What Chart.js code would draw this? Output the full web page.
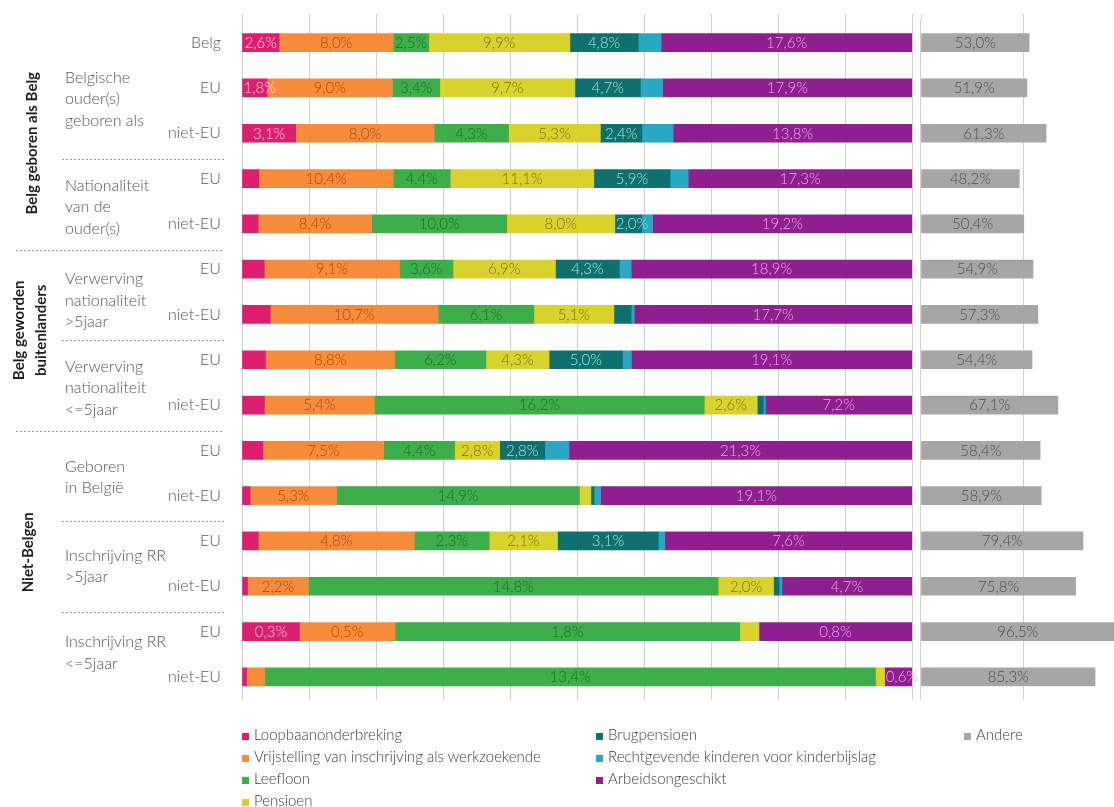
<!DOCTYPE html>
<html><head><meta charset="utf-8">
<script src="https://cdn.jsdelivr.net/npm/chart.js@4"></script>
<style>
html,body{margin:0;padding:0;background:#fff;}
#wrap{position:relative;width:1114px;height:807px;overflow:hidden;}
canvas{position:absolute;left:0;top:0;}
.lg{position:absolute;font:300 15px Lato, sans-serif;color:#3c3c3c;white-space:nowrap;line-height:20px}
.lg i{display:inline-block;width:7px;height:7px;margin-right:5px;vertical-align:0px}
</style></head>
<body><div id="wrap"><canvas id="c" width="1114" height="807"></canvas><div id="legend"></div></div>
<script>
// ---- data ----
const categories = ['Belg','EU','niet-EU','EU','niet-EU','EU','niet-EU','EU','niet-EU','EU','niet-EU','EU','niet-EU','EU','niet-EU'];
const loopbaan          = [2.6,1.8,3.1,1.3,1.2,1.5,1.8,1.6,1.1,1.3,0.5,0.5,0.2,0.3,0.1];
const vrijstelling      = [8.0,9.0,8.0,10.4,8.4,9.1,10.7,8.8,5.4,7.5,5.3,4.8,2.2,0.5,0.4];
const leefloon          = [2.5,3.4,4.3,4.4,10.0,3.6,6.1,6.2,16.2,4.4,14.9,2.3,14.8,1.8,13.4];
const pensioen          = [9.9,9.7,5.3,11.1,8.0,6.9,5.1,4.3,2.6,2.8,0.7,2.1,2.0,0.1,0.2];
const brugpensioen      = [4.8,4.7,2.4,5.9,2.0,4.3,1.1,5.0,0.3,2.8,0.2,3.1,0.2,0,0];
const rechtgevende      = [1.6,1.6,1.8,1.4,0.8,0.8,0.2,0.6,0.1,1.5,0.4,0.2,0.1,0,0];
const arbeidsongeschikt = [17.6,17.9,13.8,17.3,19.2,18.9,17.7,19.1,7.2,21.3,19.1,7.6,4.7,0.8,0.6];
const andere            = [53.0,51.9,61.3,48.2,50.4,54.9,57.3,54.4,67.1,58.4,58.9,79.4,75.8,96.5,85.3];

// which values carry a printed label in the original
const labLoopbaan     = [0,1,2,13];
const labVrijstelling = [0,1,2,3,4,5,6,7,8,9,10,11,12,13];
const labLeefloon     = [0,1,2,3,4,5,6,7,8,9,10,11,12,13,14];
const labPensioen     = [0,1,2,3,4,5,6,7,8,9,11,12];
const labBrug         = [0,1,2,3,4,5,7,9,11];
const labRecht        = [];
const labArbeid       = [0,1,2,3,4,5,6,7,8,9,10,11,12,13,14];
const labAndere       = [0,1,2,3,4,5,6,7,8,9,10,11,12,13,14];

const seriesNames = ['Loopbaanonderbreking','Vrijstelling van inschrijving als werkzoekende','Leefloon','Pensioen','Brugpensioen','Rechtgevende kinderen voor kinderbijslag','Arbeidsongeschikt','Andere'];

// ---- styles ----
const colors    = ['#dc1f6f','#f68b3c','#3eae4a','#dad22c','#10706f','#29a8c4','#8f1f8e','#a6a6a6'];
const txtColors = ['#fbd0e2','#a94a10','#1d6a27','#7a7116','#a2e3e2','#e8acea','#e8acea','#4e4e4e'];

const groupLabels = [
  {lines:['Belg geboren als Belg'], at:2.22, x:[32]},
  {lines:['Belg geworden','buitenlanders'], at:6.35, x:[19,41]},
  {lines:['Niet-Belgen'], at:11.25, x:[28]}
];
const subLabels = [
  {lines:['Belgische','ouder(s)','geboren als'], at:1.25},
  {lines:['Nationaliteit','van de','ouder(s)'], at:3.63},
  {lines:['Verwerving','nationaliteit','>5jaar'], at:5.69},
  {lines:['Verwerving','nationaliteit','<=5jaar'], at:7.63},
  {lines:['Geboren','in België'], at:9.6},
  {lines:['Inschrijving RR','>5jaar'], at:11.56},
  {lines:['Inschrijving RR','<=5jaar'], at:13.47}
];
const subSeps = [2.5, 6.5, 10.5, 12.5];
const mainSeps = [4.5, 8.5];

// ---- build ----
const parts = [loopbaan, vrijstelling, leefloon, pensioen, brugpensioen, rechtgevende, arbeidsongeschikt];
const partLabels = [labLoopbaan, labVrijstelling, labLeefloon, labPensioen, labBrug, labRecht, labArbeid];
const rowTotals = categories.map((_, i) => parts.reduce((s, p) => s + p[i], 0));

const datasets = parts.map((p, k) => ({
  label: seriesNames[k],
  data: p.map((v, i) => v / rowTotals[i] * 100),
  raw: p, labelIdx: partLabels[k],
  backgroundColor: colors[k], txtColor: txtColors[k],
  xAxisID: 'x', stack: 's', barThickness: 18, borderWidth: 0
}));
datasets.push({
  label: seriesNames[7], data: andere.slice(), raw: andere, labelIdx: labAndere,
  backgroundColor: colors[7], txtColor: txtColors[7],
  xAxisID: 'x2', stack: 's', barThickness: 18, borderWidth: 0
});

const fmt = v => v.toFixed(1).replace('.', ',') + '%';
const FONT = 'Lato, sans-serif';

const valueLabels = {
  id: 'valueLabels',
  afterDatasetsDraw(chart) {
    const ctx = chart.ctx;
    ctx.save();
    ctx.font = '300 15px ' + FONT;
    ctx.textBaseline = 'middle';
    ctx.textAlign = 'center';
    chart.data.datasets.forEach((ds, di) => {
      const meta = chart.getDatasetMeta(di);
      ds.labelIdx.forEach(i => {
        const el = meta.data[i];
        if (!el) return;
        const p = el.getProps(['x', 'base', 'y'], true);
        const t = fmt(ds.raw[i]);
        const w = ctx.measureText(t).width;
        let cx = (p.x + p.base) / 2;
        const lo = Math.min(p.x, p.base);
        if (cx - w / 2 < lo + 1) cx = lo + 1 + w / 2;
        if (ds.xAxisID === 'x2') {
          const right = Math.min(Math.max(p.x, p.base), chart.chartArea.right);
          cx = (lo + right) / 2;
        }
        ctx.fillStyle = ds.txtColor;
        ctx.fillText(t, cx, p.y + 0.5);
      });
    });
    ctx.restore();
  }
};

const sideLabels = {
  id: 'sideLabels',
  beforeDatasetsDraw(chart) {
    // extend vertical gridlines slightly above the plot
    const ctx = chart.ctx, top = chart.chartArea.top;
    ctx.save();
    ctx.strokeStyle = '#cfcfcf'; ctx.lineWidth = 1;
    ['x', 'x2'].forEach(id => {
      const s = chart.scales[id];
      s.ticks.forEach(t => {
        const px = Math.round(s.getPixelForValue(t.value)) + 0.5;
        ctx.beginPath(); ctx.moveTo(px, top - 6); ctx.lineTo(px, top); ctx.stroke();
      });
    });
    ctx.restore();
  },
  afterDraw(chart) {
    const ctx = chart.ctx, y = chart.scales.y;
    ctx.save();
    // separators
    ctx.strokeStyle = '#9a9a9a'; ctx.lineWidth = 1; ctx.setLineDash([2, 2]);
    subSeps.forEach(v => {
      const py = Math.round(y.getPixelForValue(v) + 3) + 0.5;
      ctx.beginPath(); ctx.moveTo(62, py); ctx.lineTo(224, py); ctx.stroke();
    });
    mainSeps.forEach(v => {
      const py = Math.round(y.getPixelForValue(v) + 3) + 0.5;
      ctx.beginPath(); ctx.moveTo(16, py); ctx.lineTo(224, py); ctx.stroke();
    });
    ctx.setLineDash([]);
    // sub labels
    ctx.font = '300 16px ' + FONT;
    ctx.fillStyle = '#555';
    ctx.textAlign = 'left'; ctx.textBaseline = 'middle';
    subLabels.forEach(s => {
      const c = y.getPixelForValue(s.at);
      const n = s.lines.length;
      s.lines.forEach((l, k) => ctx.fillText(l, 65, c + (k - (n - 1) / 2) * 21.5));
    });
    // group labels (rotated)
    ctx.font = 'bold 15px ' + FONT;
    ctx.fillStyle = '#1e1e1e';
    ctx.textAlign = 'center';
    groupLabels.forEach(g => {
      const c = y.getPixelForValue(g.at);
      g.lines.forEach((l, k) => {
        ctx.save();
        ctx.translate(g.x[k], c);
        ctx.rotate(-Math.PI / 2);
        ctx.fillText(l, 0, 0);
        ctx.restore();
      });
    });
    ctx.restore();
  }
};

new Chart(document.getElementById('c'), {
  type: 'bar',
  data: { labels: categories, datasets },
  options: {
    responsive: false, animation: false, indexAxis: 'y',
    layout: { padding: { top: 20, bottom: 107.5, left: 0, right: 0 } },
    plugins: { legend: { display: false }, tooltip: { enabled: false } },
    scales: {
      y: {
        type: 'category', stacked: true,
        grid: { display: false, drawTicks: true, tickLength: 21 }, border: { display: false },
        ticks: { padding: 0, color: '#555', autoSkip: false, font: { family: FONT, weight: '300', size: 16 } },
        afterFit: s => { s.width = 242; s.paddingTop = 0; s.paddingBottom = 0; }
      },
      x: {
        type: 'linear', axis: 'x', position: 'bottom', stack: 'xs', stackWeight: 670, stacked: true,
        min: 0, max: 100,
        ticks: { display: false, stepSize: 10 },
        grid: { color: '#cfcfcf', drawTicks: false, lineWidth: 1 },
        border: { display: false }
      },
      x2: {
        type: 'linear', axis: 'x', position: 'bottom', stack: 'xs', stackWeight: 202, stacked: true,
        min: -4.41, max: 94.6,
        ticks: { display: false },
        afterBuildTicks: s => { s.ticks = [{ value: 0 }, { value: 50 }]; },
        grid: { color: '#cfcfcf', drawTicks: false, lineWidth: 1 },
        border: { display: false }
      }
    }
  },
  plugins: [valueLabels, sideLabels]
});

// ---- legend ----
const legendCols = [[0, 1, 2, 3], [4, 5, 6], [7]];
const legendX = [242, 596, 964];
const lg = document.getElementById('legend');
legendCols.forEach((col, ci) => col.forEach((k, r) => {
  const d = document.createElement('div');
  d.className = 'lg';
  d.style.left = legendX[ci] + 'px';
  d.style.top = (724 + r * 22) + 'px';
  d.innerHTML = '<i style="background:' + colors[k] + '"></i>' + seriesNames[k];
  lg.appendChild(d);
}));
</script>
</body></html>
